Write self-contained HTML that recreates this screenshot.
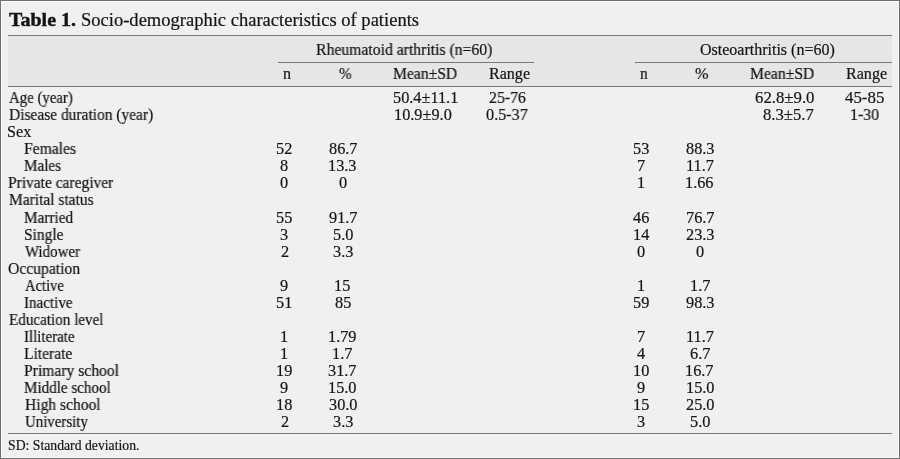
<!DOCTYPE html>
<html><head><meta charset="utf-8"><style>
html,body{margin:0;padding:0}
body{width:900px;height:459px;position:relative;overflow:hidden;background:#eff0f0;font-family:"Liberation Serif",serif;color:#141414}
div{position:absolute}
.r{background:#77797a;height:1px}
.t{white-space:nowrap;line-height:normal;transform-origin:0 0;will-change:transform;-webkit-text-stroke:0.2px #141414}
</style></head><body>
<div style="left:0;top:0;width:898px;height:457px;border:1px solid #6f7170"></div>
<div style="left:1px;top:1px;width:896px;height:455px;border:1px solid #fafafa"></div>
<div style="left:8px;top:36px;width:884px;height:50px;background:#e5e6e8"></div>
<div class="r" style="left:8px;top:35px;width:884px"></div>
<div class="r" style="left:278px;top:62px;width:256px"></div>
<div class="r" style="left:635px;top:62px;width:257px"></div>
<div class="r" style="left:8px;top:86px;width:884px"></div>
<div class="r" style="left:8px;top:433px;width:884px"></div>
<div class="t" style="left:8.59px;top:9px;font-size:19.60px;transform:scaleX(1.0201);font-weight:bold;-webkit-text-stroke:0.45px #141414">Table 1.</div>
<div class="t" style="left:81.04px;top:10px;font-size:18.00px;transform:scaleX(1.0293)">Socio-demographic characteristics of patients</div>
<div class="t" style="left:315.75px;top:41px;font-size:16.00px;transform:scaleX(0.9819)">Rheumatoid arthritis (n=60)</div>
<div class="t" style="left:699.80px;top:41px;font-size:16.00px">Osteoarthritis (n=60)</div>
<div class="t" style="left:283.05px;top:65px;font-size:16.00px;transform:scaleX(0.9935)">n</div>
<div class="t" style="left:338.82px;top:65px;font-size:16.00px;transform:scaleX(0.9520)">%</div>
<div class="t" style="left:392.96px;top:65px;font-size:16.00px;transform:scaleX(0.9775)">Mean±SD</div>
<div class="t" style="left:489.35px;top:65px;font-size:16.00px;transform:scaleX(1.0031)">Range</div>
<div class="t" style="left:639.76px;top:65px;font-size:16.00px;transform:scaleX(0.9548)">n</div>
<div class="t" style="left:695.49px;top:65px;font-size:16.00px;transform:scaleX(1.0160)">%</div>
<div class="t" style="left:749.76px;top:65px;font-size:16.00px;transform:scaleX(0.9790)">Mean±SD</div>
<div class="t" style="left:846.25px;top:65px;font-size:16.00px;transform:scaleX(1.0056)">Range</div>
<div class="t" style="left:8.70px;top:89px;font-size:15.90px;transform:scaleX(0.9331)">Age (year)</div>
<div class="t" style="left:8.76px;top:106px;font-size:15.90px;transform:scaleX(0.9728)">Disease duration (year)</div>
<div class="t" style="left:7.39px;top:123px;font-size:15.90px;transform:scaleX(1.0150)">Sex</div>
<div class="t" style="left:24.16px;top:140px;font-size:15.90px;transform:scaleX(0.9834)">Females</div>
<div class="t" style="left:24.46px;top:157px;font-size:15.90px;transform:scaleX(0.9519)">Males</div>
<div class="t" style="left:8.46px;top:174px;font-size:15.90px;transform:scaleX(0.9738)">Private caregiver</div>
<div class="t" style="left:8.61px;top:191px;font-size:15.90px;transform:scaleX(0.9731)">Marital status</div>
<div class="t" style="left:24.46px;top:209px;font-size:15.90px;transform:scaleX(0.9576)">Married</div>
<div class="t" style="left:23.73px;top:226px;font-size:15.90px;transform:scaleX(0.9722)">Single</div>
<div class="t" style="left:24.70px;top:243px;font-size:15.90px;transform:scaleX(0.9393)">Widower</div>
<div class="t" style="left:8.36px;top:260px;font-size:15.90px;transform:scaleX(0.9857)">Occupation</div>
<div class="t" style="left:24.70px;top:277px;font-size:15.90px;transform:scaleX(0.9183)">Active</div>
<div class="t" style="left:24.23px;top:294px;font-size:15.90px;transform:scaleX(0.9493)">Inactive</div>
<div class="t" style="left:8.61px;top:311px;font-size:15.90px;transform:scaleX(0.9520)">Education level</div>
<div class="t" style="left:24.23px;top:328px;font-size:15.90px;transform:scaleX(0.9396)">Illiterate</div>
<div class="t" style="left:24.46px;top:345px;font-size:15.90px;transform:scaleX(0.9788)">Literate</div>
<div class="t" style="left:24.46px;top:362px;font-size:15.90px;transform:scaleX(0.9827)">Primary school</div>
<div class="t" style="left:24.46px;top:379px;font-size:15.90px;transform:scaleX(0.9497)">Middle school</div>
<div class="t" style="left:24.56px;top:396px;font-size:15.90px;transform:scaleX(0.9786)">High school</div>
<div class="t" style="left:24.57px;top:413px;font-size:15.90px;transform:scaleX(0.9361)">University</div>
<div class="t" style="left:7.64px;top:438px;font-size:13.60px;transform:scaleX(1.0092)">SD: Standard deviation.</div>
<div class="t" style="left:392.84px;top:88px;font-size:16.30px">50.4±11.1</div>
<div class="t" style="left:394.23px;top:105px;font-size:16.30px">10.9±9.0</div>
<div class="t" style="left:488.71px;top:88px;font-size:16.30px;transform:scaleX(0.9714)">25-76</div>
<div class="t" style="left:486.19px;top:105px;font-size:16.30px;transform:scaleX(0.9918)">0.5-37</div>
<div class="t" style="left:754.98px;top:88px;font-size:16.30px;transform:scaleX(1.0294)">62.8±9.0</div>
<div class="t" style="left:763.48px;top:105px;font-size:16.30px;transform:scaleX(1.0218)">8.3±5.7</div>
<div class="t" style="left:844.54px;top:88px;font-size:16.30px;transform:scaleX(1.0359)">45-85</div>
<div class="t" style="left:849.66px;top:105px;font-size:16.30px;transform:scaleX(0.9753)">1-30</div>
<div class="t" style="left:276.35px;top:139px;font-size:16.30px">52</div>
<div class="t" style="left:328.51px;top:139px;font-size:16.30px">86.7</div>
<div class="t" style="left:633.22px;top:139px;font-size:16.30px">53</div>
<div class="t" style="left:685.94px;top:139px;font-size:16.30px">88.3</div>
<div class="t" style="left:280.43px;top:156px;font-size:16.30px">8</div>
<div class="t" style="left:328.26px;top:156px;font-size:16.30px">13.3</div>
<div class="t" style="left:637.04px;top:156px;font-size:16.30px">7</div>
<div class="t" style="left:685.73px;top:156px;font-size:16.30px">11.7</div>
<div class="t" style="left:280.43px;top:173px;font-size:16.30px">0</div>
<div class="t" style="left:338.82px;top:173px;font-size:16.30px">0</div>
<div class="t" style="left:637.17px;top:173px;font-size:16.30px">1</div>
<div class="t" style="left:685.43px;top:173px;font-size:16.30px">1.66</div>
<div class="t" style="left:276.22px;top:208px;font-size:16.30px">55</div>
<div class="t" style="left:328.51px;top:208px;font-size:16.30px">91.7</div>
<div class="t" style="left:633.35px;top:208px;font-size:16.30px">46</div>
<div class="t" style="left:685.56px;top:208px;font-size:16.30px">76.7</div>
<div class="t" style="left:280.30px;top:225px;font-size:16.30px">3</div>
<div class="t" style="left:332.59px;top:225px;font-size:16.30px">5.0</div>
<div class="t" style="left:632.84px;top:225px;font-size:16.30px">14</div>
<div class="t" style="left:685.94px;top:225px;font-size:16.30px">23.3</div>
<div class="t" style="left:280.55px;top:242px;font-size:16.30px">2</div>
<div class="t" style="left:332.59px;top:242px;font-size:16.30px">3.3</div>
<div class="t" style="left:637.42px;top:242px;font-size:16.30px">0</div>
<div class="t" style="left:696.12px;top:242px;font-size:16.30px">0</div>
<div class="t" style="left:280.43px;top:276px;font-size:16.30px">9</div>
<div class="t" style="left:334.37px;top:276px;font-size:16.30px">15</div>
<div class="t" style="left:637.17px;top:276px;font-size:16.30px">1</div>
<div class="t" style="left:689.50px;top:276px;font-size:16.30px">1.7</div>
<div class="t" style="left:276.35px;top:293px;font-size:16.30px">51</div>
<div class="t" style="left:334.75px;top:293px;font-size:16.30px">85</div>
<div class="t" style="left:633.22px;top:293px;font-size:16.30px">59</div>
<div class="t" style="left:685.94px;top:293px;font-size:16.30px">98.3</div>
<div class="t" style="left:280.17px;top:327px;font-size:16.30px">1</div>
<div class="t" style="left:328.26px;top:327px;font-size:16.30px">1.79</div>
<div class="t" style="left:637.04px;top:327px;font-size:16.30px">7</div>
<div class="t" style="left:685.73px;top:327px;font-size:16.30px">11.7</div>
<div class="t" style="left:280.17px;top:344px;font-size:16.30px">1</div>
<div class="t" style="left:332.20px;top:344px;font-size:16.30px">1.7</div>
<div class="t" style="left:637.42px;top:344px;font-size:16.30px">4</div>
<div class="t" style="left:689.89px;top:344px;font-size:16.30px">6.7</div>
<div class="t" style="left:275.97px;top:361px;font-size:16.30px">19</div>
<div class="t" style="left:328.38px;top:361px;font-size:16.30px">31.7</div>
<div class="t" style="left:632.97px;top:361px;font-size:16.30px">10</div>
<div class="t" style="left:685.43px;top:361px;font-size:16.30px">16.7</div>
<div class="t" style="left:280.43px;top:378px;font-size:16.30px">9</div>
<div class="t" style="left:328.26px;top:378px;font-size:16.30px">15.0</div>
<div class="t" style="left:637.42px;top:378px;font-size:16.30px">9</div>
<div class="t" style="left:685.56px;top:378px;font-size:16.30px">15.0</div>
<div class="t" style="left:275.97px;top:395px;font-size:16.30px">18</div>
<div class="t" style="left:328.51px;top:395px;font-size:16.30px">30.0</div>
<div class="t" style="left:632.97px;top:395px;font-size:16.30px">15</div>
<div class="t" style="left:685.94px;top:395px;font-size:16.30px">25.0</div>
<div class="t" style="left:280.55px;top:412px;font-size:16.30px">2</div>
<div class="t" style="left:332.59px;top:412px;font-size:16.30px">3.3</div>
<div class="t" style="left:637.30px;top:412px;font-size:16.30px">3</div>
<div class="t" style="left:689.89px;top:412px;font-size:16.30px">5.0</div>
</body></html>
